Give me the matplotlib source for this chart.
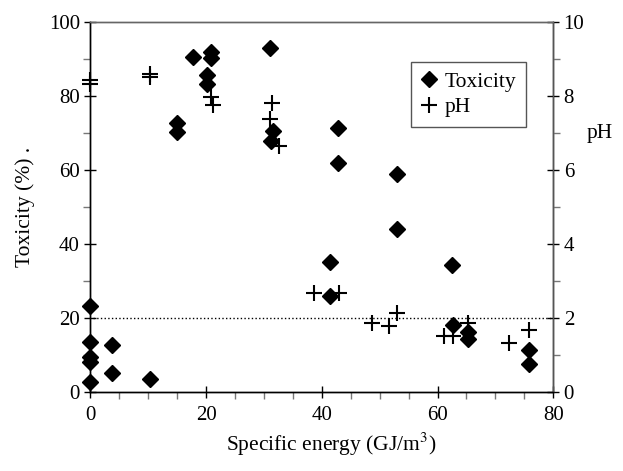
import matplotlib.pyplot as plt
from matplotlib.ticker import MultipleLocator

plt.rcParams['font.family'] = ['Liberation Serif', 'DejaVu Serif']
plt.rcParams['mathtext.fontset'] = 'stix'

# Toxicity (%) vs specific energy (GJ/m3)
tox_energy = [0, 0, 0, 0, 0, 3.7, 3.7, 10.3, 14.9, 14.9, 17.8, 20.1, 20.1,
              20.9, 20.9, 31.0, 31.5, 31.3, 41.4, 41.4, 42.8, 42.8, 53.0,
              53.0, 62.5, 62.6, 65.3, 65.3, 75.8, 75.8]
toxicity = [23.3, 13.4, 9.4, 8.0, 2.6, 12.7, 5.0, 3.6, 72.6, 70.4, 90.6, 85.7,
            83.2, 92.0, 90.4, 93.0, 70.6, 67.9, 35.0, 25.8, 71.3, 61.8, 58.9,
            44.0, 34.2, 18.1, 16.3, 14.2, 11.2, 7.6]

# pH vs specific energy
ph_energy = [0, 0, 10.3, 10.3, 20.9, 21.2, 31.4, 31.0, 32.6, 38.7, 42.9, 48.7,
             51.6, 53.0, 61.1, 62.6, 65.3, 72.3, 75.8]
ph = [8.43, 8.32, 8.6, 8.52, 7.98, 7.75, 7.8, 7.38, 6.66, 2.67, 2.67, 1.87,
      1.79, 2.13, 1.5, 1.5, 1.86, 1.32, 1.68]

threshold = 20

fig = plt.figure(figsize=(6.23, 4.71), dpi=100)
ax = fig.add_axes([0.145, 0.168, 0.743, 0.785])
ax2 = ax.twinx()

h1, = ax.plot(tox_energy, toxicity, 'D', color='black', markersize=8,
              linestyle='none', label='Toxicity', zorder=3, clip_on=False)
h2, = ax2.plot(ph_energy, ph, '+', color='black', markersize=12,
               markeredgewidth=1.5, linestyle='none', label='pH', zorder=3,
               clip_on=False)
ax.axhline(threshold, xmin=0.006, color='black', linestyle=':', linewidth=1.0)

ax.set_xlim(0, 80)
ax.set_ylim(0, 100)
ax2.set_ylim(0, 10)

ax.xaxis.set_major_locator(MultipleLocator(20))
ax.xaxis.set_minor_locator(MultipleLocator(5))
ax.yaxis.set_major_locator(MultipleLocator(20))
ax.yaxis.set_minor_locator(MultipleLocator(10))
ax2.yaxis.set_major_locator(MultipleLocator(2))
ax2.yaxis.set_minor_locator(MultipleLocator(1))

for a in (ax, ax2):
    a.tick_params(which='major', direction='inout', length=9, width=1,
                  labelsize=15, color='black')
    a.tick_params(which='minor', direction='out', length=5, width=1,
                  color='#777777')
    for s in a.spines.values():
        s.set_linewidth(1)
ax.tick_params(axis='x', pad=6)
ax.tick_params(axis='y', pad=3)
ax2.tick_params(axis='y', pad=3)

ax.spines['top'].set_color('#666666')
ax2.spines['top'].set_color('#666666')
ax2.spines['right'].set_color('#555555')

ax.set_xlabel('Specific energy (GJ/m$^3$)', fontsize=15.5)
ax.xaxis.set_label_coords(0.521, -0.105)
ax.set_ylabel('Toxicity (%) .', fontsize=15.5, labelpad=10)
ax2.set_ylabel('pH', fontsize=15.5, rotation=0, va='center')
ax2.yaxis.set_label_coords(1.10, 0.70)

leg = ax2.legend([h1, h2], ['Toxicity', 'pH'], loc='upper left',
                 bbox_to_anchor=(0.693, 0.892), fontsize=15.5, fancybox=False,
                 framealpha=1, edgecolor='#555555', handlelength=0.8,
                 handletextpad=0.3, borderpad=0.45, labelspacing=0.25,
                 borderaxespad=0)
leg.get_frame().set_linewidth(1)

fig.savefig('out.png', dpi=100)
